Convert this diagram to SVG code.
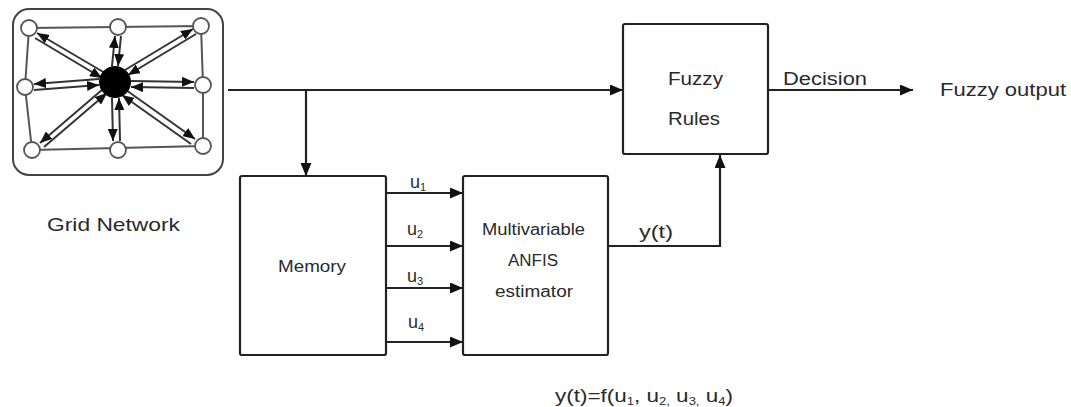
<svg xmlns="http://www.w3.org/2000/svg" width="1071" height="407" viewBox="0 0 1071 407">
<style>
.box{fill:#fff;stroke:#222;stroke-width:2.2}
.ln{fill:none;stroke:#222;stroke-width:2.2}
.t{font-family:"Liberation Sans",Arial,sans-serif;fill:#2a2a2a}
.g{fill:none;stroke:#555;stroke-width:2}
.nd{fill:#fff;stroke:#555;stroke-width:1.8}
.ga{fill:none;stroke:#333;stroke-width:2}
</style>
<defs>
<marker id="ah" markerUnits="userSpaceOnUse" markerWidth="13" markerHeight="11" refX="13" refY="5.5" orient="auto">
<path d="M0,0 L13,5.5 L0,11 z" fill="#111"/>
</marker>
<marker id="sa" markerUnits="userSpaceOnUse" markerWidth="12" markerHeight="10" refX="12" refY="5" orient="auto">
<path d="M0,0 L12,5 L0,10 z" fill="#111"/>
</marker>
</defs>

<g id="grid-network">
<rect x="13" y="9" width="210" height="166" rx="16" fill="#fff" stroke="#444" stroke-width="2"/>
<path class="g" d="M29,28 L201,26 M25,87 L29,28 M32,150 L25,87 M32,150 L203,146 M203,146 L203,85 L201,26"/>
<g>
<line class="ga" x1="105" y1="73" x2="37" y2="33" marker-end="url(#sa)"/>
<line class="ga" x1="35" y1="38" x2="102" y2="78" marker-end="url(#sa)"/>
<line class="ga" x1="112" y1="66" x2="115" y2="36" marker-end="url(#sa)"/>
<line class="ga" x1="121" y1="36" x2="118" y2="66" marker-end="url(#sa)"/>
<line class="ga" x1="125" y1="70" x2="193" y2="29" marker-end="url(#sa)"/>
<line class="ga" x1="196" y1="34" x2="128" y2="75" marker-end="url(#sa)"/>
<line class="ga" x1="99" y1="79" x2="34" y2="84" marker-end="url(#sa)"/>
<line class="ga" x1="34" y1="90" x2="99" y2="85" marker-end="url(#sa)"/>
<line class="ga" x1="131" y1="81" x2="194" y2="82" marker-end="url(#sa)"/>
<line class="ga" x1="194" y1="88" x2="131" y2="87" marker-end="url(#sa)"/>
<line class="ga" x1="103" y1="89" x2="40" y2="143" marker-end="url(#sa)"/>
<line class="ga" x1="44" y1="147" x2="107" y2="93" marker-end="url(#sa)"/>
<line class="ga" x1="112" y1="98" x2="113" y2="141" marker-end="url(#sa)"/>
<line class="ga" x1="120" y1="141" x2="119" y2="98" marker-end="url(#sa)"/>
<line class="ga" x1="126" y1="90" x2="195" y2="139" marker-end="url(#sa)"/>
<line class="ga" x1="191" y1="144" x2="122" y2="95" marker-end="url(#sa)"/>
</g>
<circle cx="115" cy="82" r="16" fill="#000"/>
<circle class="nd" cx="29" cy="28" r="8"/>
<circle class="nd" cx="118" cy="27" r="8"/>
<circle class="nd" cx="201" cy="26" r="8"/>
<circle class="nd" cx="25" cy="87" r="8"/>
<circle class="nd" cx="203" cy="85" r="8"/>
<circle class="nd" cx="32" cy="150" r="8"/>
<circle class="nd" cx="118" cy="150" r="8"/>
<circle class="nd" cx="203" cy="146" r="8"/>
<text class="t" x="47" y="231" font-size="19" textLength="133" lengthAdjust="spacingAndGlyphs">Grid Network</text>
</g>

<g id="memory">
<rect class="box" x="240" y="176" width="146" height="179" rx="2"/>
<text class="t" x="278" y="272" font-size="17" textLength="68" lengthAdjust="spacingAndGlyphs">Memory</text>
</g>

<g id="anfis">
<rect class="box" x="463" y="176" width="145" height="179" rx="2"/>
<text class="t" x="482" y="235" font-size="16" textLength="103" lengthAdjust="spacingAndGlyphs">Multivariable</text>
<text class="t" x="508" y="266" font-size="16" textLength="50" lengthAdjust="spacingAndGlyphs">ANFIS</text>
<text class="t" x="495" y="297" font-size="16" textLength="78" lengthAdjust="spacingAndGlyphs">estimator</text>
</g>

<g id="fuzzy-rules">
<rect class="box" x="623" y="24" width="145" height="130" rx="2"/>
<text class="t" x="668" y="85" font-size="18" textLength="55" lengthAdjust="spacingAndGlyphs">Fuzzy</text>
<text class="t" x="668" y="125" font-size="18" textLength="52" lengthAdjust="spacingAndGlyphs">Rules</text>
</g>

<g id="fuzzy-output">
<text class="t" x="940" y="96" font-size="19" textLength="126" lengthAdjust="spacingAndGlyphs">Fuzzy output</text>
</g>

<g id="connectors">
<path class="ln" d="M228,90 H623" marker-end="url(#ah)"/>
<path class="ln" d="M306,90 V176" marker-end="url(#ah)"/>
<path class="ln" d="M386,193 H463" marker-end="url(#ah)"/>
<path class="ln" d="M386,246 H463" marker-end="url(#ah)"/>
<path class="ln" d="M386,288 H463" marker-end="url(#ah)"/>
<path class="ln" d="M386,342 H463" marker-end="url(#ah)"/>
<path class="ln" d="M608,246 H720 V155" marker-end="url(#ah)"/>
<path class="ln" d="M768,90 H913" marker-end="url(#ah)"/>
<text class="t" x="783" y="85" font-size="18" textLength="84" lengthAdjust="spacingAndGlyphs">Decision</text>
<text class="t" x="410" y="188" font-size="18">u<tspan font-size="11" dy="3">1</tspan></text>
<text class="t" x="407" y="235" font-size="18">u<tspan font-size="11" dy="3">2</tspan></text>
<text class="t" x="407" y="282" font-size="18">u<tspan font-size="11" dy="3">3</tspan></text>
<text class="t" x="408" y="328" font-size="18">u<tspan font-size="11" dy="3">4</tspan></text>
<text class="t" x="639" y="238" font-size="18" textLength="34" lengthAdjust="spacingAndGlyphs">y(t)</text>
</g>

<g id="formula">
<text class="t" x="555" y="402" font-size="19" textLength="178" lengthAdjust="spacingAndGlyphs">y(t)=f(u<tspan font-size="11" dy="3">1</tspan><tspan dy="-3">, u</tspan><tspan font-size="11" dy="3">2,</tspan><tspan dy="-3"> u</tspan><tspan font-size="11" dy="3">3,</tspan><tspan dy="-3"> u</tspan><tspan font-size="11" dy="3">4</tspan><tspan dy="-3">)</tspan></text>
</g>
</svg>
